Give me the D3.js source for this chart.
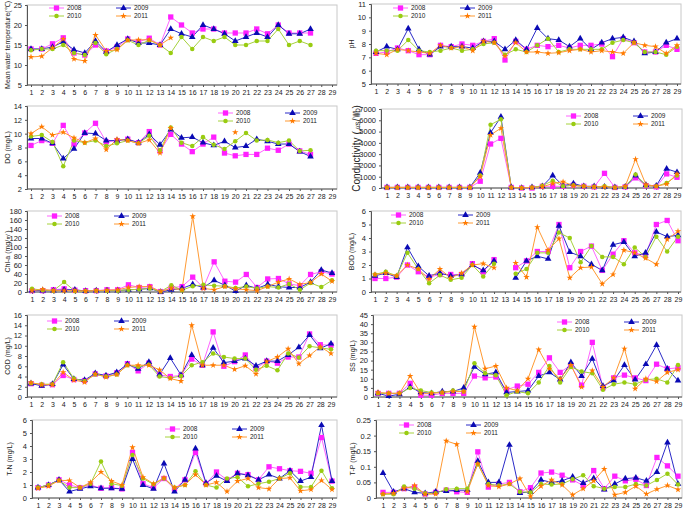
<!DOCTYPE html>
<html>
<head>
<meta charset="utf-8">
<script src="https://cdn.jsdelivr.net/npm/d3@7"></script>
<style>
  body { margin: 0; background: #fff; }
  svg text { font-family: "Liberation Sans", Arial, sans-serif; fill: #222; }
</style>
</head>
<body>
<div id="chart"></div>
<script>
// Water quality by site, 2008-2011 (10 small panels)

const sites = [1,2,3,4,5,6,7,8,9,10,11,12,13,14,15,16,17,18,19,20,21,22,23,24,25,26,27,28,29];
const years = ["2008", "2009", "2010", "2011"];

// Mean water temperature
const temp2008 = [14,14,15.3,16.8,13,12.5,15,13.5,14.5,16.5,15.8,16.7,15,22,20,18,19,19,18,18,18,19,17.8,20,18,18,18,null,null];
const temp2009 = [14,14,14.5,15.8,13.8,13,16,13.3,15,16.5,15.5,15.5,15,19,17.8,17,20,19,17.8,16,17,18,17,20,17.8,17.8,19,null,null];
const temp2010 = [13.7,14,14,15,13,12.5,15.5,12.7,14,16.2,15,16.2,15,13,17,14,17,16,17,15,15,16,16,19,15,16,15,null,null];
const temp2011 = [12,12.2,14.3,16.5,11.5,11,17.5,13.5,13.8,16.2,16.3,16.3,15,16.8,null,null,null,null,null,null,null,null,null,null,null,null,null,null,null];

// pH
const ph2008 = [7.3,7.4,7.7,7.5,7.2,7.2,7.9,7.8,8.0,7.9,8.2,8.4,6.8,8.2,7.6,7.9,7.8,7.9,7.7,7.9,7.9,8.0,7.05,8.4,8.1,7.4,7.4,7.9,7.6];
const ph2009 = [7.4,7.8,7.6,9.15,7.6,7.2,7.8,7.8,7.8,7.7,8.2,8.2,7.6,8.3,7.6,9.2,8.4,8.3,7.8,8.4,7.6,8.1,8.4,8.5,8.2,7.3,7.4,8.1,8.4];
const ph2010 = [7.5,7.5,7.5,8.3,7.5,7.4,7.5,7.7,7.5,7.6,8.0,8.1,7.2,7.6,7.4,7.9,8.4,7.4,7.6,7.6,7.6,7.6,8.1,8.3,8.1,7.4,7.4,7.2,7.8];
const ph2011 = [7.3,7.2,7.6,7.5,7.4,7.3,7.9,7.7,7.8,7.5,8.2,8.1,7.1,8.1,7.4,7.4,7.3,7.35,7.5,7.6,7.4,7.5,7.4,7.3,8.1,7.9,7.8,7.3,7.9];

// DO
const do2008 = [8.3,9,8.6,11.2,8.5,10.1,11.5,8.8,9,9.2,8.7,10.3,7.5,9.9,8.5,7.4,8.5,9.5,7.2,6.8,7,7,7.9,7.6,8.5,7.5,7,null,null];
const do2009 = [9.3,9.3,8.6,6.4,7.8,10.1,10,9,9,9.2,8.7,9.9,8.4,10.6,9.4,9.5,8.7,8.3,8.9,8,8.2,9.2,8.9,8.5,8.5,7.4,6.7,null,null];
const do2010 = [9.6,9.8,8.8,5.3,9.0,8.7,9.0,8.2,8.6,9.0,8.6,9.7,7.6,10.9,8.7,8.2,9.5,8.4,7.8,8.9,10.1,9.0,9.1,8.7,9,7.5,7.6,null,null];
const do2011 = [10,11,9.8,10.2,9.4,8.7,9.3,7.7,9.2,9,8.6,9.1,7.2,10.8,null,null,null,null,null,10.2,null,null,null,null,null,null,null,null,null];

// Conductivity
const cond2008 = [50,50,50,50,50,50,50,50,50,600,3900,4400,50,0,0,150,150,150,250,150,100,1300,50,100,900,200,100,1250,950];
const cond2009 = [50,50,50,50,50,50,50,50,50,1350,4900,6300,50,0,50,150,1100,200,400,150,150,100,50,100,1100,250,200,1700,1400];
const cond2010 = [50,50,50,50,50,50,50,50,50,1100,5600,6100,50,0,50,200,650,150,250,150,100,150,50,100,1200,200,150,450,1100];
const cond2011 = [50,50,50,50,50,50,50,50,50,1000,4700,5300,50,0,50,100,400,550,200,150,100,100,50,150,2550,300,150,350,1250];

// Chl-a
const chla2008 = [3,3,5,7,4,3,3,5,5,16,10,12,1,10,12,33,10,67,24,22,39,10,29,30,18,14,39,45,40];
const chla2009 = [3,3,3,5,5,2,3,3,3,5,6,8,0,5,8,17,10,26,15,2,15,8,17,12,10,10,22,49,42];
const chla2010 = [7,4,3,22,2,2,3,3,3,5,6,8,1,15,4,13,16,14,13,9,12,8,12,10,18,5,20,11,26];
const chla2011 = [3,6,3,3,3,2,3,4,5,10,12,12,1,8,5,168,8,5,12,7,5,3,12,22,29,17,21,40,24];

// BOD (site 13 missing)
const bod2008 = [1,1,1.1,2,1.5,1.1,1.3,1.3,1.3,2.1,1.5,2.4,null,1.8,2.3,3,3,5,1.8,3,3.4,1.6,2.8,3.8,2.9,2.7,5,5.3,3.8];
const bod2009 = [1.2,1.4,1.1,3.3,1.9,1.2,1.4,1.2,1.3,2,1.6,2.3,null,1.05,2.3,2.65,2.45,4.9,2.95,2.65,2.05,1.6,3.5,3.7,2.65,2.9,4.45,4.1,4.2];
const bod2010 = [1.3,1.5,1.2,2.9,1.7,0.65,1.25,0.9,1.05,2,1.15,2.1,null,1.35,1.7,2.9,2.9,4.4,4,2.2,3.4,2.6,2.6,2.05,3.3,2.6,4.1,3,4.1];
const bod2011 = [1.3,1.4,1.2,2,1.7,0.95,1.7,1.05,1.4,2,2.1,1.8,null,2.15,1.1,4.8,3.1,3.95,1.05,1.8,1.85,0.6,1.3,3.1,2.9,2.5,2.05,3.9,4.5];

// COD
const cod2008 = [2.6,2.3,2.4,4.2,3.4,3.2,4.5,4.1,4.7,6.5,5.1,6.6,4.3,4,4.2,7.4,6.2,12.7,6,6.9,8.2,5.6,7,6.6,7.8,7.8,12.3,10.2,10.1];
const cod2009 = [2.6,2.2,2.5,6.3,3.5,3.3,4.6,4.2,4.8,6.4,5.5,6.8,4.4,7.6,4.3,8.2,6.2,9.6,6.7,7,7.5,6.1,7,7,8.2,9.7,12.1,9.5,10.4];
const cod2010 = [2.7,2.5,2.5,6.8,3.6,3.1,4.4,4,4.4,6.2,5.9,6.3,4,3.7,4.1,6.2,6.8,8.5,7.8,7.5,7.5,5.3,6.1,5.2,8.5,7.7,9.9,9.6,9.3];
const cod2011 = [2.8,2.4,2.4,4.8,3.3,2.9,4.5,3.9,4.4,6.2,6.2,6.2,5.3,3.6,3.1,14,6.2,6.2,6.2,5.4,6.1,4.5,6.9,7.8,9.4,6.5,8.1,9.8,8.5];

// SS
const ss2008 = [2,2,2,7.5,1,1,2,2,2,11.5,10.5,11,4,6,7,13.5,21.5,13.5,17.5,6.5,30,5,10.5,12,10.5,9,18,15.5,16];
const ss2009 = [2,0.5,1.5,5.5,2.5,2,3,3,5,16.5,12.5,13.5,2.5,3,3.5,11.5,13.5,9.5,19,11.5,21,6,9,17.5,9.5,18,28.5,15.5,9];
const ss2010 = [2,2,2,5,3.5,2.5,2.5,3.5,3,18.5,13,12,1,3,2,8,17,8,16.5,14,13,4,7,8,7,9.5,10,8,17.5];
const ss2011 = [2.5,2,2,11.5,2,2,2.5,3,3,38.5,15.5,17,5,3.5,10,26,15.5,10,17.5,5.5,14.5,5.5,10.5,26.5,4.5,10,8.5,13.5,15];

// T-N
const tn2008 = [0.8,1,1.4,1,0.8,1,0.75,0.8,0.7,3.5,1.1,0.8,1.5,0.7,1.4,3.5,1.1,2,1.4,1.9,1.8,1.4,2.4,2.25,2.1,2.05,1.9,4.65,1.3];
const tn2009 = [0.8,1,1.4,0.5,0.7,0.9,0.75,0.75,0.7,3,1,0.7,2.65,0.5,1.4,3.8,1.15,1.7,1.3,1.9,1.75,1.4,1.8,1.5,2.1,1.3,1.6,5.6,1.3];
const tn2010 = [0.8,1,1.35,0.8,0.8,1.1,2.8,1.1,0.95,3.3,1.5,1.05,1.5,0.8,1.0,2.05,1,0.8,1.5,1.6,0.9,1.1,1.25,1.5,1.9,0.85,0.85,2.1,0.75];
const tn2011 = [0.75,0.9,1.35,1.35,0.8,1.2,2,1.3,1,3.9,1.6,1.1,1.55,0.8,1,1.8,1,1.2,0.5,1.3,1.5,0.8,0.7,1.5,1.55,0.55,0.65,1.35,0.65];

// T-P
const tp2008 = [0.018,0.018,0.03,0.035,0.013,0.018,0.025,0.02,0.018,0.148,0.035,0.045,0.05,0.02,0.033,0.08,0.083,0.073,0.058,0.04,0.088,0.03,0.07,0.055,0.06,0.04,0.13,0.103,0.07];
const tp2009 = [0.08,0.02,0.03,0.018,0.015,0.02,0.022,0.025,0.025,0.118,0.05,0.05,0.17,0.016,0.02,0.058,0.05,0.055,0.068,0.048,0.063,0.027,0.045,0.062,0.065,0.055,0.083,0.178,0.045];
const tp2010 = [0.012,0.012,0.037,0.03,0.015,0.015,0.028,0.03,0.03,0.108,0.045,0.04,0.045,0.02,0.018,0.045,0.043,0.045,0.06,0.073,0.038,0.03,0.035,0.035,0.045,0.04,0.058,0.078,0.043];
const tp2011 = [0.013,0.015,0.03,0.04,0.012,0.013,0.183,0.172,0.02,0.11,0.04,0.036,0.045,0.062,0.005,0.038,0.058,0.042,0.01,0.03,0.055,0.093,0.01,0.018,0.038,0.013,0.028,0.04,0.027];

// Styles per year
const lineColor = { "2008": "#ff66ff", "2009": "#2b2bc8", "2010": "#a6d23c", "2011": "#ff9a33" };
const markColor = { "2008": "#ff1fff", "2009": "#0a0ab4", "2010": "#99cc11", "2011": "#ff7a00" };
const markType = { "2008": d3.symbolSquare, "2009": d3.symbolTriangle, "2010": d3.symbolCircle, "2011": d3.symbolStar };
const markSize = { "2008": 28, "2009": 19, "2010": 16, "2011": 13 };

// Panel layout (plot box, x point range, y domain, legend spot)
const panels = [
  { label: "Mean water temperature(\u2103)", series: [temp2008, temp2009, temp2010, temp2011],
    left: 27, right: 337, top: 5, bottom: 85, x0: 31, x1: 332, yMin: 5, yMax: 25, step: 5,
    legX: 49, legY: 8, labelX: 8, labelSize: 7 },
  { label: "pH", series: [ph2008, ph2009, ph2010, ph2011],
    left: 371, right: 681, top: 4, bottom: 84, x0: 376, x1: 677, yMin: 5, yMax: 11, step: 1,
    legX: 393, legY: 8, labelX: 352, labelSize: 7 },
  { label: "DO (mg/L)", series: [do2008, do2009, do2010, do2011],
    left: 27, right: 337, top: 106, bottom: 189, x0: 31, x1: 332, yMin: 2, yMax: 14, step: 2,
    legX: 218, legY: 113, labelX: 8, labelSize: 7 },
  { label: "Conductivity (\u33b2/\u33dd)", series: [cond2008, cond2009, cond2010, cond2011],
    left: 381, right: 682, top: 109, bottom: 188, x0: 387, x1: 677, yMin: 0, yMax: 7000, step: 1000,
    legX: 566, legY: 116, labelX: 356, labelSize: 10 },
  { label: "Chl-a (mg/\u33a5)", series: [chla2008, chla2009, chla2010, chla2011],
    left: 27, right: 337, top: 211, bottom: 292, x0: 32, x1: 332, yMin: 0, yMax: 180, step: 20,
    legX: 47, legY: 216, labelX: 8, labelSize: 7 },
  { label: "BOD (mg/L)", series: [bod2008, bod2009, bod2010, bod2011],
    left: 371, right: 681, top: 211, bottom: 292, x0: 375, x1: 678, yMin: 0, yMax: 6, step: 1,
    legX: 391, legY: 215, labelX: 352, labelSize: 7 },
  { label: "COD (mg/L)", series: [cod2008, cod2009, cod2010, cod2011],
    left: 27, right: 337, top: 315, bottom: 397, x0: 31, x1: 331, yMin: 0, yMax: 16, step: 2,
    legX: 47, legY: 321, labelX: 8, labelSize: 7 },
  { label: "SS (mg/L)", series: [ss2008, ss2009, ss2010, ss2011],
    left: 373, right: 682, top: 315, bottom: 397, x0: 378, x1: 678, yMin: 0, yMax: 45, step: 5,
    legX: 557, legY: 322, labelX: 353, labelSize: 7 },
  { label: "T-N (mg/L)", series: [tn2008, tn2009, tn2010, tn2011],
    left: 32, right: 337, top: 420, bottom: 498, x0: 38, x1: 332, yMin: 0, yMax: 6, step: 1,
    legX: 165, legY: 429, labelX: 10, labelSize: 7 },
  { label: "T-P (mg/L)", series: [tp2008, tp2009, tp2010, tp2011],
    left: 376, right: 682, top: 420, bottom: 498, x0: 383, x1: 678, yMin: 0, yMax: 0.25, step: 0.05,
    legX: 399, legY: 425, labelX: 353, labelSize: 7 }
];

const svg = d3.select("#chart").append("svg")
  .attr("width", 688)
  .attr("height", 509);

panels.forEach(drawPanel);

function drawPanel(p) {
  const g = svg.append("g");

  const x = d3.scalePoint().domain(sites).range([p.x0, p.x1]);
  const y = d3.scaleLinear().domain([p.yMin, p.yMax]).range([p.bottom, p.top]);

  // light frame around plot area
  g.append("rect")
    .attr("x", p.left).attr("y", p.top)
    .attr("width", p.right - p.left).attr("height", p.bottom - p.top)
    .attr("fill", "none").attr("stroke", "#c8c8c8").attr("stroke-width", 1);

  // y axis
  const yTicks = [];
  for (let i = 0; i * p.step <= p.yMax - p.yMin + 1e-9; i++) yTicks.push(+(p.yMin + i * p.step).toFixed(3));
  const yAxis = g.append("g")
    .attr("transform", `translate(${p.left},0)`)
    .call(d3.axisLeft(y).tickValues(yTicks).tickSize(2).tickPadding(3).tickFormat(d => String(d)));
  yAxis.select(".domain").attr("stroke", "#555");
  yAxis.selectAll(".tick line").attr("stroke", "#555");
  yAxis.selectAll("text").style("font-size", "7.5px").attr("fill", "#333");

  // x axis
  const xAxis = g.append("g")
    .attr("transform", `translate(0,${p.bottom})`)
    .call(d3.axisBottom(x).tickSize(2).tickPadding(3));
  xAxis.select(".domain").remove();
  xAxis.selectAll(".tick line").attr("stroke", "#555");
  xAxis.selectAll("text").style("font-size", "7px").attr("fill", "#333");
  g.append("line")
    .attr("x1", p.left).attr("x2", p.right)
    .attr("y1", p.bottom).attr("y2", p.bottom)
    .attr("stroke", "#555");

  // y axis label
  g.append("text")
    .attr("transform", `translate(${p.labelX},${(p.top + p.bottom) / 2}) rotate(-90)`)
    .attr("text-anchor", "middle")
    .attr("dy", "0.35em")
    .style("font-size", p.labelSize + "px")
    .attr("fill", "#333")
    .text(p.label);

  // series
  const line = d3.line()
    .defined(d => d.v != null)
    .x(d => x(d.s))
    .y(d => y(d.v));

  years.forEach((yr, i) => {
    const pts = p.series[i].map((v, j) => ({ s: sites[j], v: v }));
    g.append("path")
      .datum(pts)
      .attr("fill", "none")
      .attr("stroke", lineColor[yr])
      .attr("stroke-width", 1)
      .attr("d", line);
  });

  years.forEach((yr, i) => {
    const pts = p.series[i].map((v, j) => ({ s: sites[j], v: v })).filter(d => d.v != null);
    g.selectAll(null)
      .data(pts)
      .enter().append("path")
      .attr("transform", d => `translate(${x(d.s)},${y(d.v)})`)
      .attr("d", d3.symbol().type(markType[yr]).size(markSize[yr]))
      .attr("fill", markColor[yr]);
  });

  // legend: two rows, two columns
  years.forEach((yr, i) => {
    const lx = p.legX + (i % 2) * 67;
    const ly = p.legY + Math.floor(i / 2) * 8;
    g.append("line")
      .attr("x1", lx).attr("x2", lx + 15)
      .attr("y1", ly).attr("y2", ly)
      .attr("stroke", lineColor[yr]).attr("stroke-width", 1);
    g.append("path")
      .attr("transform", `translate(${lx + 7.5},${ly})`)
      .attr("d", d3.symbol().type(markType[yr]).size(markSize[yr]))
      .attr("fill", markColor[yr]);
    g.append("text")
      .attr("x", lx + 18).attr("y", ly)
      .attr("dy", "0.35em")
      .style("font-size", "6.5px")
      .attr("fill", "#333")
      .text(yr);
  });
}
</script>
</body>
</html>
